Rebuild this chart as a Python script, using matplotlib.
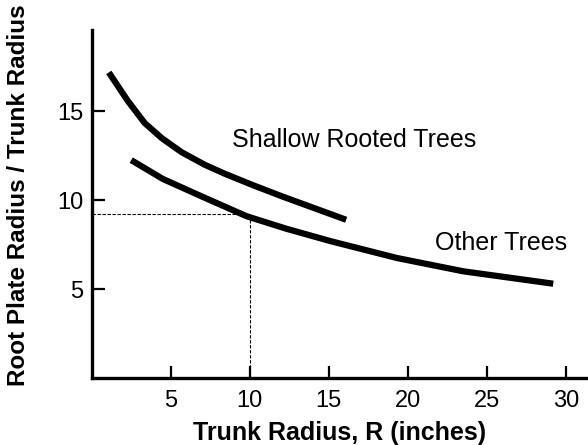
import matplotlib
matplotlib.use("Agg")
import matplotlib.pyplot as plt

plt.rcParams["font.family"] = ["Liberation Sans", "DejaVu Sans"]

# Valeurs
shallow_r = [1.08, 2.28, 3.35, 4.43, 5.7, 7.15, 8.4, 10.2, 12.1, 14.1, 16.1]
shallow_ratio = [17.2, 15.6, 14.35, 13.5, 12.7, 12.0, 11.5, 10.85, 10.2,
                 9.55, 8.9]

other_r = [2.5, 4.5, 7.0, 9.8, 12.3, 15.1, 19.3, 23.5, 29.2]
other_ratio = [12.26, 11.2, 10.2, 9.1, 8.4, 7.7, 6.75, 6.0, 5.3]

example_r = 10
example_ratio = 9.25

x_ticks = [5, 10, 15, 20, 25, 30]
y_ticks = [5, 10, 15]

fig = plt.figure(figsize=(5.88, 4.45), dpi=100)
ax = fig.add_axes([0.156, 0.151, 0.844, 0.782])

ax.plot(shallow_r, shallow_ratio, color="black", lw=4.5, solid_capstyle="butt",
        solid_joinstyle="round")
ax.plot(other_r, other_ratio, color="black", lw=4.5, solid_capstyle="butt",
        solid_joinstyle="round")

# lignes pointillées pour l'exemple R = 10
ax.plot([0, example_r], [example_ratio, example_ratio], color="black",
        lw=0.8, ls=(0, (3, 1.5)))
ax.plot([example_r, example_r], [0, example_ratio], color="black",
        lw=0.8, ls=(0, (3, 1.5)))

ax.text(16.6, 13.4, "Shallow Rooted Trees", fontsize=18, ha="center",
        va="center")
ax.text(25.9, 7.6, "Other Trees", fontsize=18, ha="center", va="center")

ax.set_xlim(0, 31.4)
ax.set_ylim(0, 19.6)
ax.set_xticks(x_ticks)
ax.set_yticks(y_ticks)
ax.tick_params(direction="in", length=9, width=1.6, labelsize=17)
ax.tick_params(axis="x", pad=9)
ax.tick_params(axis="y", pad=6)

for side in ["top", "right"]:
    ax.spines[side].set_visible(False)
for side in ["left", "bottom"]:
    ax.spines[side].set_linewidth(2.4)

ax.set_xlabel("Trunk Radius, R (inches)", fontsize=18, fontweight="bold",
              labelpad=6)
ax.set_ylabel("Root Plate Radius / Trunk Radius", fontsize=17.5,
              fontweight="bold")
ax.yaxis.set_label_coords(-0.125, 0.524)

fig.savefig("out.png", dpi=100)
